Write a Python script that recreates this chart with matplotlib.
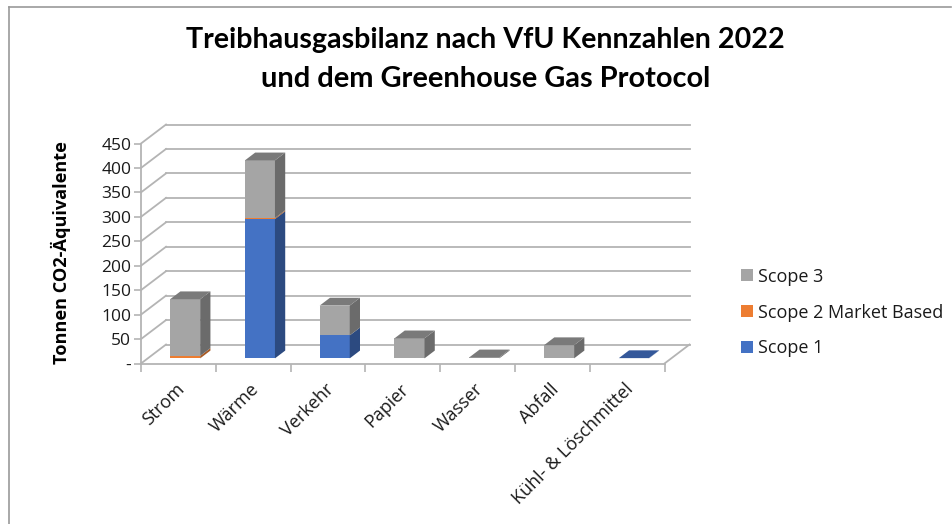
"""Stacked pseudo-3D column chart: GHG balance by category and scope."""
import matplotlib
matplotlib.use("Agg")
import matplotlib.pyplot as plt
from matplotlib.lines import Line2D
from matplotlib.patches import Polygon

W, H = 952, 524

categories = ["Strom", "Wärme", "Verkehr", "Papier", "Wasser", "Abfall", "Kühl- & Löschmittel"]
scope1 = [0, 285, 47, 0, 0, 0, 0.5]
scope2 = [5, 2, 0, 0, 0, 0, 0]
scope3 = [116, 118, 61, 41, 2, 27, 0]
yticks = [0, 50, 100, 150, 200, 250, 300, 350, 400, 450]
ytick_labels = ["-", "50", "100", "150", "200", "250", "300", "350", "400", "450"]

FRONT = {"Scope 1": "#4472C4", "Scope 2 Market Based": "#ED7D31", "Scope 3": "#A5A5A5"}
SIDE = {"Scope 1": "#2C4A80", "Scope 2 Market Based": "#A85A24", "Scope 3": "#6B6B6B"}
TOP = {"Scope 1": "#34589A", "Scope 2 Market Based": "#BE6A2C", "Scope 3": "#7A7A7A"}
GRID = "#B4B4B4"

# depth of the fake 3D box, in data units
DEPTH_X = 25 / 74.7
DEPTH_Y = 19 / 220 * 450
BAR_W = 30 / 74.7
D0, D1 = 0.27, 0.68

plt.rcParams["font.family"] = ["Open Sans", "DejaVu Sans"]

fig = plt.figure(figsize=(W / 100, H / 100), dpi=100)
# the axes is the front plane of the box
ax = fig.add_axes([141 / W, 1 - 363.5 / H, (664.5 - 141) / W, 220 / H])
ax.set_xlim(0, 7)
ax.set_ylim(0, 450)

# back wall and side wall grid
for v in yticks:
    ax.plot([DEPTH_X, 7 + DEPTH_X], [v + DEPTH_Y] * 2, color=GRID, lw=1.3, clip_on=False, zorder=1)
    ax.plot([0, DEPTH_X], [v, v + DEPTH_Y], color=GRID, lw=1.3, clip_on=False, zorder=1)
ax.plot([7, 7 + DEPTH_X], [0, DEPTH_Y], color=GRID, lw=1.3, clip_on=False, zorder=1)


def box(i, bottom, height, name, with_top):
    left = i + 0.5 - BAR_W / 2
    x0 = left + D0 * DEPTH_X
    y0 = bottom + D0 * DEPTH_Y
    x1 = x0 + BAR_W
    dx = (D1 - D0) * DEPTH_X
    dy = (D1 - D0) * DEPTH_Y
    ax.bar(x0, height, BAR_W, bottom=y0, align="edge", color=FRONT[name], zorder=3, clip_on=False)
    ax.add_patch(Polygon([(x1, y0), (x1 + dx, y0 + dy), (x1 + dx, y0 + dy + height), (x1, y0 + height)],
                         closed=True, facecolor=SIDE[name], edgecolor="none", zorder=3, clip_on=False))
    if with_top:
        yt = y0 + height
        ax.add_patch(Polygon([(x0, yt), (x1, yt), (x1 + dx, yt + dy), (x0 + dx, yt + dy)],
                             closed=True, facecolor=TOP[name], edgecolor="none", zorder=3, clip_on=False))


for i in range(len(categories)):
    parts = [("Scope 1", scope1[i]), ("Scope 2 Market Based", scope2[i]), ("Scope 3", scope3[i])]
    parts = [p for p in parts if p[1] > 0]
    base = 0
    for k, (name, val) in enumerate(parts):
        box(i, base, val, name, k == len(parts) - 1)
        base += val

for s in ("top", "right"):
    ax.spines[s].set_visible(False)
for s in ("left", "bottom"):
    ax.spines[s].set_color(GRID)
    ax.spines[s].set_linewidth(1.3)
ax.patch.set_alpha(0)

ax.set_yticks(yticks)
ax.set_yticklabels(ytick_labels, fontsize=12.5, color="#1A1A1A")
ax.tick_params(axis="y", length=5, width=1.2, color=GRID, pad=2)
ax.set_xticks(range(8))
ax.set_xticklabels([])
ax.tick_params(axis="x", which="major", length=6, width=1.2, color=GRID)
ax.set_xticks([i + 0.46 for i in range(7)], minor=True)
ax.set_xticklabels(categories, minor=True, rotation=45, ha="right", va="top",
                   rotation_mode="anchor", fontsize=13, color="#1A1A1A")
ax.tick_params(axis="x", which="minor", length=0, pad=12)

fig.text(61 / W, 1 - 253 / H, "Tonnen CO2-Äquivalente", rotation=90, ha="center", va="center",
         fontsize=13.1, fontweight="bold", color="black")

fig.text(485 / W, 1 - 40 / H, "Treibhausgasbilanz nach VfU Kennzahlen 2022", ha="center", va="center",
         fontsize=20.6, fontweight="bold", family=["Lato", "DejaVu Sans"], color="black")
fig.text(486 / W, 1 - 79 / H, "und dem Greenhouse Gas Protocol", ha="center", va="center",
         fontsize=20.9, fontweight="bold", family=["Lato", "DejaVu Sans"], color="black")

# legend
handles = [Line2D([], [], marker="s", ls="none", ms=8, mew=0, color=FRONT[n]) for n in
           ("Scope 3", "Scope 2 Market Based", "Scope 1")]
fig.legend(handles, ["Scope 3", "Scope 2 Market Based", "Scope 1"], loc="center left",
           bbox_to_anchor=(734 / W, 1 - 312.5 / H), frameon=False, fontsize=13, labelspacing=0.98,
           handletextpad=-0.05, handlelength=1.4, labelcolor="#1A1A1A", borderpad=0, borderaxespad=0)

# chart frame
fig.add_artist(Line2D([8.5 / W, 8.5 / W], [0, 1 - 6.5 / H], color="#9A9A9A", lw=1.2))
fig.add_artist(Line2D([8.5 / W, 951 / W], [1 - 6.5 / H, 1 - 6.5 / H], color="#9A9A9A", lw=1.2))

fig.savefig("out.png", dpi=100)
